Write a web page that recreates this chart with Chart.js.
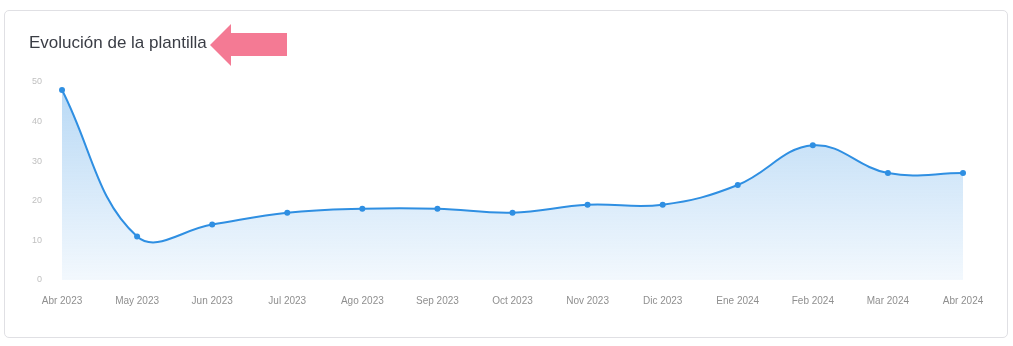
<!DOCTYPE html>
<html>
<head>
<meta charset="utf-8">
<script src="https://cdn.jsdelivr.net/npm/chart.js@4/dist/chart.umd.min.js"></script>
<style>
  html, body { margin: 0; padding: 0; background: #fff; width: 1013px; height: 346px; overflow: hidden; }
  .card { position: absolute; left: 4px; top: 10px; width: 1002px; height: 326px; border: 1px solid #e0e0e4; border-radius: 5px; }
  .title { position: absolute; left: 29px; top: 33px; font-family: "Liberation Sans", Arial, sans-serif; font-size: 17px; color: #3a3d45; }
  .arrow { position: absolute; left: 210px; top: 24px; }
  #wrap { position: absolute; left: 0; top: 0; width: 1013px; height: 346px; }
</style>
</head>
<body>
<div class="card"></div>
<div id="wrap"><canvas id="plantilla"></canvas></div>
<div class="title">Evolución de la plantilla</div>
<svg class="arrow" width="78" height="42" viewBox="0 0 78 42">
  <polygon points="0,21 21,0 21,9 77,9 77,32 21,32 21,42" fill="#f47a94"/>
</svg>
<script>
// datos de la plantilla
const meses = ['Abr 2023', 'May 2023', 'Jun 2023', 'Jul 2023', 'Ago 2023', 'Sep 2023', 'Oct 2023',
               'Nov 2023', 'Dic 2023', 'Ene 2024', 'Feb 2024', 'Mar 2024', 'Abr 2024'];
const empleados = [48, 11, 14, 17, 18, 18, 17, 19, 19, 24, 34, 27, 27];
const yMin = 0;
const yMax = 50;
const yStep = 10;

document.addEventListener("DOMContentLoaded", function() {
    const ctx = document.getElementById('plantilla').getContext('2d');

    const chart = new Chart(ctx, {
        type: 'line',
        data: {
            labels: meses,
            datasets: [{
                label: 'Plantilla',
                data: empleados,
                borderColor: '#2f8fe2',
                borderWidth: 2,
                pointRadius: 3,
                pointBackgroundColor: '#2f8fe2',
                pointBorderColor: '#2f8fe2',
                pointBorderWidth: 0,
                tension: 0.4,
                fill: 'origin',
                backgroundColor: function(context) {
                    const area = context.chart.chartArea;
                    if (!area) return 'rgba(47,143,226,0.2)';
                    const g = context.chart.ctx.createLinearGradient(0, area.top, 0, area.bottom);
                    g.addColorStop(0, 'rgba(47,143,226,0.35)');
                    g.addColorStop(1, 'rgba(47,143,226,0.06)');
                    return g;
                }
            }]
        },
        options: {
            responsive: true,
            maintainAspectRatio: false,
            animation: false,
            layout: {
                padding: { left: 20, right: 50, top: 82, bottom: 32 }
            },
            plugins: {
                legend: { display: false },
                tooltip: { enabled: false }
            },
            scales: {
                x: {
                    grid: { display: false },
                    border: { display: false },
                    ticks: {
                        color: '#8f8f8f',
                        padding: 7,
                        maxRotation: 0,
                        autoSkip: false,
                        font: { family: '"Liberation Sans", Arial, sans-serif', size: 10 }
                    }
                },
                y: {
                    min: yMin,
                    max: yMax,
                    grid: { display: false },
                    border: { display: false },
                    ticks: {
                        stepSize: yStep,
                        color: '#c0c0c0',
                        padding: 12,
                        font: { family: '"Liberation Sans", Arial, sans-serif', size: 9 }
                    }
                }
            }
        }
    });
});
</script>
</body>
</html>
